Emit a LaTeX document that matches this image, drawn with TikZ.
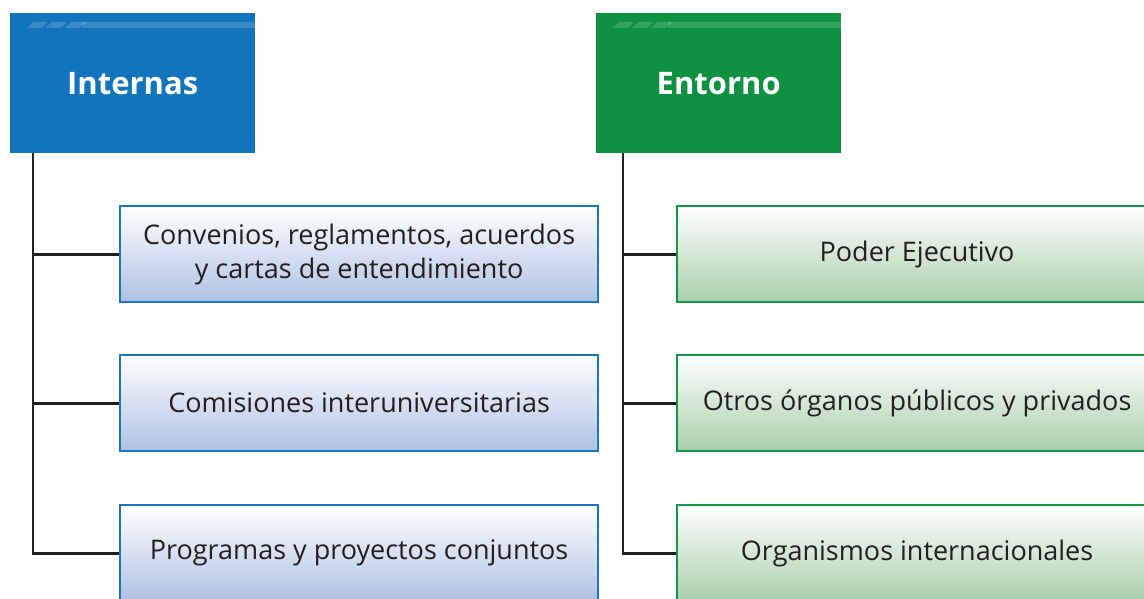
\documentclass[tikz,border=0pt]{standalone}
\usepackage{fontspec}
\setmainfont{Open Sans}
\definecolor{hblue}{HTML}{1174BD}
\definecolor{hgreen}{HTML}{0F9142}
\definecolor{bblue}{HTML}{1A76BE}
\definecolor{bgreen}{HTML}{159549}
\definecolor{lblue}{HTML}{AEC1E3}
\definecolor{lgreen}{HTML}{A8CFA9}
\definecolor{ink}{HTML}{231F20}
\begin{document}
\begin{tikzpicture}[x=1pt,y=-1pt,
  hdr/.style={rectangle, anchor=north west, minimum width=245pt, minimum height=140pt, inner sep=0pt, text=white, font=\fontsize{31}{36}\selectfont\bfseries},
  cbox/.style={rectangle, anchor=north west, minimum height=96pt, inner sep=0pt, line width=2.2pt, text=ink, align=center, font=\fontsize{27}{34}\selectfont},
  lbox/.style={cbox, draw=bblue, top color=white, bottom color=lblue, minimum width=478pt},
  rbox/.style={cbox, draw=bgreen, top color=white, bottom color=lgreen, minimum width=480pt},
  conn/.style={draw=ink, line width=2.8pt},
  stripe/.style={fill=white, fill opacity=0.17, draw=none}]
\useasboundingbox (0,0) rectangle (1144,599);
\clip (0,0) rectangle (1144,599);
% headers
\node[hdr, fill=hblue] (int) at (10,13) {Internas};
\node[hdr, fill=hgreen] (ent) at (596,13) {Entorno};
\foreach \h in {int,ent}{
  \path[stripe] ([xshift=72pt,yshift=-9pt]\h.north west) rectangle ([yshift=-15pt]\h.north east);
  \foreach \d in {17,36,55}{
    \path[stripe] ([xshift=\d pt,yshift=-15pt]\h.north west) -- ++(15,0) -- ++(6,-6) -- ++(-15,0) -- cycle;
  }
}
% left boxes
\node[lbox] (c1) at (119,205) {Convenios, reglamentos, acuerdos\\y cartas de entendimiento};
\node[lbox] (c2) at (119,354) {Comisiones interuniversitarias};
\node[lbox] (c3) at (119,504) {Programas y proyectos conjuntos};
% right boxes
\node[rbox] (e1) at (676,205) {Poder Ejecutivo};
\node[rbox] (e2) at (676,354) {Otros órganos públicos y privados};
\node[rbox] (e3) at (676,504) {Organismos internacionales};
% connectors
\coordinate (ia) at ([xshift=23pt]int.south west);
\coordinate (ea) at ([xshift=27pt]ent.south west);
\draw[conn] (ia) |- (c3.west);
\draw[conn] (ia |- c1.west) -- (c1.west);
\draw[conn] (ia |- c2.west) -- (c2.west);
\draw[conn] (ea) |- (e3.west);
\draw[conn] (ea |- e1.west) -- (e1.west);
\draw[conn] (ea |- e2.west) -- (e2.west);
\end{tikzpicture}
\end{document}
